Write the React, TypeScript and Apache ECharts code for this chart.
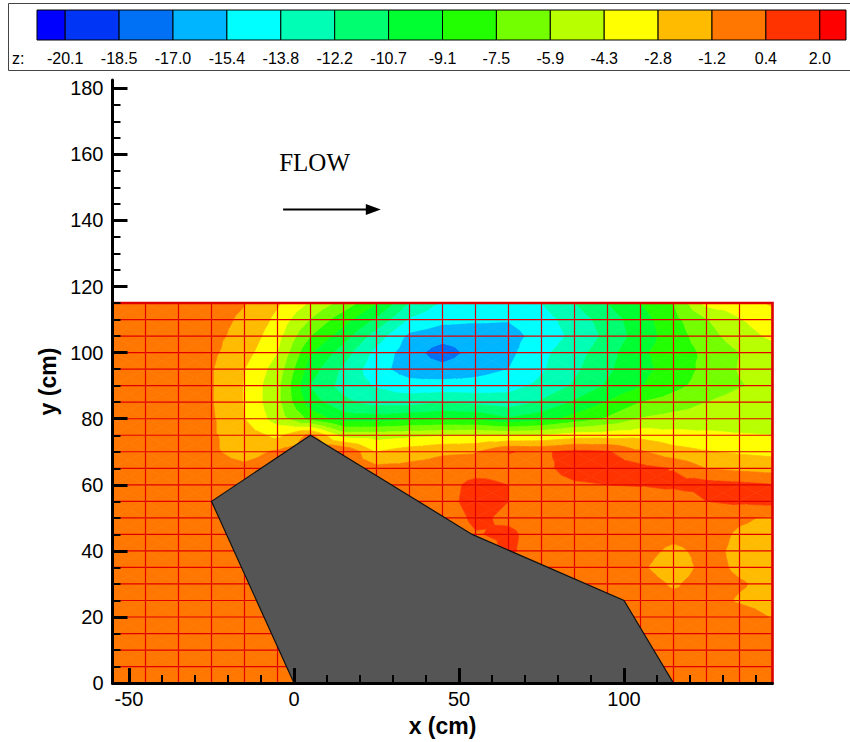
import React, { useEffect, useRef } from "react";
import * as echarts from "echarts";

// ---------- data ----------
const xNodes = [-55, -45, -35, -25, -15, -5, 5, 15, 25, 35, 45, 55, 65, 75, 85, 95, 105, 115, 125, 135, 145];
const yNodes = [0, 5, 10, 15, 20, 25, 30, 35, 40, 45, 50, 55, 60, 65, 70, 75, 80, 85, 90, 95, 100, 105, 110, 115];

// z values along each mesh row (x = -55 ... 145)
const z115 = [-0.5, -0.5, -0.6, -0.7, -1.15, -2.6, -4.5, -6.5, -9.0, -12.3, -14.0, -14.5, -14.5, -13.8, -12.2, -10.7, -9.1, -7.5, -3.8, -3.5, -2.6];
const z110 = [-0.5, -0.5, -0.6, -0.8, -1.4, -3.2, -6.0, -8.5, -11.0, -14.0, -15.0, -15.2, -15.3, -14.5, -13.0, -11.5, -9.8, -8.0, -6.0, -4.4, -3.4];
const z105 = [-0.5, -0.5, -0.6, -0.8, -1.7, -3.8, -7.5, -10.0, -13.0, -15.8, -16.4, -16.2, -16.0, -14.8, -13.4, -11.8, -10.0, -8.3, -6.6, -5.0, -4.0];
const z100 = [-0.5, -0.5, -0.6, -0.9, -2.2, -4.3, -9.0, -11.5, -14.3, -16.3, -17.8, -16.4, -15.8, -14.2, -12.8, -11.3, -9.4, -8.3, -7.2, -5.9, -5.0];
const z95 = [-0.5, -0.5, -0.6, -1.1, -2.8, -5.0, -10.0, -12.5, -14.8, -16.2, -16.5, -16.0, -15.4, -14.0, -12.5, -11.0, -9.5, -8.6, -7.0, -5.8, -5.2];
const z90 = [-0.5, -0.5, -0.6, -1.1, -2.9, -5.5, -10.8, -12.8, -14.0, -14.8, -14.8, -14.8, -14.4, -13.4, -12.0, -10.5, -9.2, -8.0, -6.8, -6.0, -5.5];
const z85 = [-0.5, -0.5, -0.6, -1.1, -2.9, -5.5, -10.0, -11.8, -12.8, -12.8, -12.3, -12.6, -13.0, -12.0, -10.5, -9.0, -7.5, -6.8, -5.9, -5.3, -5.0];
const z80 = [-0.5, -0.5, -0.6, -1.0, -2.8, -5.0, -8.0, -10.0, -10.0, -9.6, -9.3, -9.5, -10.5, -9.8, -8.5, -7.3, -5.8, -5.3, -5.1, -5.0, -4.9];
const z75 = [-0.5, -0.5, -0.6, -1.0, -2.0, -3.2, -0.8, -5.0, -5.0, -4.7, -4.5, -4.3, -4.5, -4.3, -3.6, -3.5, -3.3, -3.8, -4.0, -4.2, -4.3];
const z70 = [-0.5, -0.5, -0.6, -1.0, -1.7, -1.0, -0.5, 0.45, -2.8, -2.0, -1.4, -1.3, 0.45, 0.2, 0.8, 0.6, -1.0, -2.2, -2.7, -3.0, -3.2];
const z65 = [-0.5, -0.5, -0.6, -0.7, -0.9, -0.5, -0.5, -0.5, -0.8, -0.7, -0.6, -0.4, -0.1, 0.0, 1.0, 1.1, 0.9, 0.3, -1.2, -1.6, -1.9];
const z60 = [-0.5, -0.5, -0.6, -0.6, -0.5, -0.5, -0.5, -0.5, -0.5, -0.5, -0.3, 0.9, 0.4, -0.2, 0.2, 0.4, 0.5, 0.9, 1.0, 0.8, 0.5];
const z55 = [-0.5, -0.5, -0.6, -0.5, -0.5, -0.5, -0.5, -0.5, -0.5, -0.5, -0.2, 1.0, 0.4, -0.3, -0.3, -0.4, -0.5, -1.25, 0.4, 0.7, 0.9];
const z50 = [-0.5, -0.5, -0.5, -0.5, -0.5, -0.5, -0.5, -0.5, -0.5, -0.5, -0.5, 0.7, 0.1, -0.3, -0.4, -0.5, -0.5, -0.6, -0.4, -1.0, -1.4];
const z45 = [-0.5, -0.5, -0.5, -0.5, -0.5, -0.5, -0.5, -0.5, -0.5, -0.5, -0.5, 0.3, 0.7, -0.3, -0.5, -0.5, -0.5, -0.8, -0.6, -1.4, -1.6];
const z40 = [-0.5, -0.5, -0.5, -0.5, -0.5, -0.5, -0.5, -0.5, -0.5, -0.5, -0.5, -0.5, 0.6, -0.2, -0.5, -0.5, -0.7, -1.5, -0.8, -1.5, -1.7];
const z35 = [-0.5, -0.5, -0.5, -0.5, -0.5, -0.5, -0.5, -0.5, -0.5, -0.5, -0.5, -0.5, -0.5, -0.5, -0.5, -0.5, -1.0, -1.9, -0.8, -1.4, -1.6];
const z30 = [-0.5, -0.5, -0.5, -0.5, -0.5, -0.5, -0.5, -0.5, -0.5, -0.5, -0.5, -0.5, -0.5, -0.5, -0.5, -0.5, -0.6, -1.35, -0.7, -1.1, -1.5];
const z25 = [-0.5, -0.5, -0.5, -0.5, -0.5, -0.5, -0.5, -0.5, -0.5, -0.5, -0.5, -0.5, -0.5, -0.5, -0.5, -0.5, -0.5, -0.9, -0.8, -1.3, -1.5];
const z20 = [-0.5, -0.5, -0.5, -0.5, -0.5, -0.5, -0.5, -0.5, -0.5, -0.5, -0.5, -0.5, -0.5, -0.5, -0.5, -0.5, -0.5, -0.5, -0.6, -0.8, -1.25];
const z15 = [-0.5, -0.5, -0.5, -0.5, -0.5, -0.5, -0.5, -0.5, -0.5, -0.5, -0.5, -0.5, -0.5, -0.5, -0.5, -0.5, -0.5, -0.5, -0.5, -0.6, -0.8];
const z10 = [-0.5, -0.5, -0.5, -0.5, -0.5, -0.5, -0.5, -0.5, -0.5, -0.5, -0.5, -0.5, -0.5, -0.5, -0.5, -0.5, -0.5, -0.5, -0.5, -0.5, -0.5];
const z5 = [-0.5, -0.5, -0.5, -0.5, -0.5, -0.5, -0.5, -0.5, -0.5, -0.5, -0.5, -0.5, -0.5, -0.5, -0.5, -0.5, -0.5, -0.5, -0.5, -0.5, -0.5];
const z0 = [-0.5, -0.5, -0.5, -0.5, -0.5, -0.5, -0.5, -0.5, -0.5, -0.5, -0.5, -0.5, -0.5, -0.5, -0.5, -0.5, -0.5, -0.5, -0.5, -0.5, -0.5];

const zRows = [z0, z5, z10, z15, z20, z25, z30, z35, z40, z45, z50, z55, z60, z65, z70, z75, z80, z85, z90, z95, z100, z105, z110, z115];

const levels = [-20.1, -18.5, -17.0, -15.4, -13.8, -12.2, -10.7, -9.1, -7.5, -5.9, -4.3, -2.8, -1.2, 0.4, 2.0];
const levelLabels = ["-20.1", "-18.5", "-17.0", "-15.4", "-13.8", "-12.2", "-10.7", "-9.1", "-7.5", "-5.9", "-4.3", "-2.8", "-1.2", "0.4", "2.0"];
const bandColors = [
  "#0000FF", "#0035F5", "#0070F5", "#00B5FF", "#00FFFF", "#00FFB5", "#00FF70", "#00FF30",
  "#22FF00", "#74FF00", "#B8FF00", "#FFFF00", "#FFBB00", "#FF7700", "#FF3300", "#FF0000",
];

const obstacleX = [0, -25, 5, 54, 100, 115];
const obstacleY = [0, 55, 75, 45, 25, 0];

const xMajorTicks = [-50, 0, 50, 100];
const xMinorTicks = [-40, -30, -20, -10, 10, 20, 30, 40, 60, 70, 80, 90, 110, 120, 130, 140];
const yMajorTicks = [0, 20, 40, 60, 80, 100, 120, 140, 160, 180];
const yMinorTicks = [5, 10, 15, 25, 30, 35, 45, 50, 55, 65, 70, 75, 85, 90, 95, 105, 110, 115, 125, 130, 135, 145, 150, 155, 165, 170, 175];

const flowLabel = "FLOW";
const flowTextAt = [-4.5, 157.5];
const arrowFrom = [-3.3, 143.3];
const arrowTo = [26.3, 143.3];

// ---------- helpers ----------
type P = [number, number, number];

function clip(poly: P[], t: number, keepAbove: boolean): P[] {
  const out: P[] = [];
  const n = poly.length;
  for (let k = 0; k < n; k++) {
    const a = poly[k];
    const b = poly[(k + 1) % n];
    const ina = keepAbove ? a[2] >= t : a[2] <= t;
    const inb = keepAbove ? b[2] >= t : b[2] <= t;
    if (ina) out.push(a);
    if (ina !== inb) {
      const f = (t - a[2]) / (b[2] - a[2]);
      out.push([a[0] + f * (b[0] - a[0]), a[1] + f * (b[1] - a[1]), t]);
    }
  }
  return out;
}

function renderContour(params: any, api: any) {
  const i = api.value(2);
  const j = api.value(3);
  const x0 = xNodes[i], x1 = xNodes[i + 1];
  const y0 = yNodes[j], y1 = yNodes[j + 1];
  const a: P = [x0, y0, zRows[j][i]];
  const b: P = [x1, y0, zRows[j][i + 1]];
  const c: P = [x1, y1, zRows[j + 1][i + 1]];
  const d: P = [x0, y1, zRows[j + 1][i]];
  const m: P = [(x0 + x1) / 2, (y0 + y1) / 2, (a[2] + b[2] + c[2] + d[2]) / 4];
  const tris: P[][] = [[a, b, m], [b, c, m], [c, d, m], [d, a, m]];
  const children: any[] = [];
  for (const tri of tris) {
    const zs = tri.map((p) => p[2]);
    const zmin = Math.min(...zs), zmax = Math.max(...zs);
    for (let k = 0; k < bandColors.length; k++) {
      const lo = k === 0 ? -Infinity : levels[k - 1];
      const hi = k === bandColors.length - 1 ? Infinity : levels[k];
      if (zmax < lo || zmin > hi) continue;
      let poly: P[] = tri;
      if (lo !== -Infinity) poly = clip(poly, lo, true);
      if (poly.length < 3) continue;
      if (hi !== Infinity) poly = clip(poly, hi, false);
      if (poly.length < 3) continue;
      const pts = poly.map((p) => api.coord([p[0], p[1]]));
      children.push({
        type: "polygon",
        shape: { points: pts },
        style: { fill: bandColors[k], stroke: bandColors[k], lineWidth: 0.7 },
      });
    }
  }
  return { type: "group", children };
}

function renderMesh(params: any, api: any) {
  const children: any[] = [];
  const xl = xNodes[0], xr = xNodes[xNodes.length - 1];
  const yb = yNodes[0], yt = yNodes[yNodes.length - 1];
  const meshColor = "#E00000";
  for (let k = 1; k < xNodes.length - 1; k++) {
    const p0 = api.coord([xNodes[k], yb]);
    const p1 = api.coord([xNodes[k], yt]);
    children.push({ type: "line", shape: { x1: p0[0], y1: p0[1], x2: p1[0], y2: p1[1] }, style: { stroke: meshColor, lineWidth: 1.2 } });
  }
  for (let k = 1; k < yNodes.length - 1; k++) {
    const p0 = api.coord([xl, yNodes[k]]);
    const p1 = api.coord([xr, yNodes[k]]);
    children.push({ type: "line", shape: { x1: p0[0], y1: p0[1], x2: p1[0], y2: p1[1] }, style: { stroke: meshColor, lineWidth: 1.2 } });
  }
  const tl = api.coord([xl, yt]);
  const tr = api.coord([xr, yt]);
  const br = api.coord([xr, yb]);
  children.push({
    type: "polyline",
    shape: { points: [tl, tr, br] },
    style: { stroke: "#DD0000", lineWidth: 2.6, fill: null },
  });
  return { type: "group", children };
}

function renderObstacle(params: any, api: any) {
  const pts = obstacleX.map((x, k) => api.coord([x, obstacleY[k]]));
  return {
    type: "polygon",
    shape: { points: pts },
    style: { fill: "#555555", stroke: "#111111", lineWidth: 1.2 },
  };
}

function renderFlow(params: any, api: any) {
  const t = api.coord(flowTextAt);
  const a = api.coord(arrowFrom);
  const b = api.coord(arrowTo);
  return {
    type: "group",
    children: [
      {
        type: "text",
        x: t[0],
        y: t[1],
        style: {
          text: flowLabel,
          fontSize: 25,
          fontFamily: '"Liberation Serif", "Times New Roman", serif',
          fill: "#000",
          align: "left",
          verticalAlign: "middle",
        },
      },
      { type: "line", shape: { x1: a[0], y1: a[1], x2: b[0] - 10, y2: b[1] }, style: { stroke: "#000", lineWidth: 2 } },
      {
        type: "polygon",
        shape: { points: [[b[0], b[1]], [b[0] - 15, b[1] - 5.5], [b[0] - 15, b[1] + 5.5]] },
        style: { fill: "#000" },
      },
    ],
  };
}

// ---------- colour bar (legend) ----------
function colorBarElements() {
  const els: any[] = [];
  const barLeft = 37, barRight = 846, barTop = 10, barH = 30;
  const firstEdge = 65.2, step = 53.9;
  els.push({ type: "rect", shape: { x: 8.5, y: 3.5, width: 860, height: 67 }, style: { fill: "#fff", stroke: "#444", lineWidth: 1 }, z: 0 });
  const edges = [barLeft, ...levels.map((_, k) => firstEdge + step * k), barRight];
  for (let k = 0; k < bandColors.length; k++) {
    els.push({
      type: "rect",
      shape: { x: edges[k], y: barTop, width: edges[k + 1] - edges[k], height: barH },
      style: { fill: bandColors[k], stroke: "#000", lineWidth: 1 },
      z: 1,
    });
  }
  levelLabels.forEach((lab, k) => {
    els.push({
      type: "text",
      x: firstEdge + step * k,
      y: 58,
      style: { text: lab, fontSize: 16, fontFamily: '"Liberation Sans", Arial, sans-serif', fill: "#000", align: "center", verticalAlign: "middle" },
      z: 2,
    });
  });
  els.push({
    type: "text",
    x: 12,
    y: 58,
    style: { text: "z:", fontSize: 16, fontFamily: '"Liberation Sans", Arial, sans-serif', fill: "#000", align: "left", verticalAlign: "middle" },
    z: 2,
  });
  return els;
}

const FONT = '"Liberation Sans", Arial, Helvetica, sans-serif';

export default function App() {
  const ref = useRef<HTMLDivElement | null>(null);
  useEffect(() => {
    document.body.style.margin = "0";
    if (!ref.current) return;
    const chart = echarts.init(ref.current, undefined, { renderer: "svg" });
    const cells: number[][] = [];
    for (let j = 0; j < yNodes.length - 1; j++) {
      for (let i = 0; i < xNodes.length - 1; i++) {
        cells.push([xNodes[i], yNodes[j], i, j]);
      }
    }
    const xBase = {
      type: "value",
      min: -55,
      max: 145,
      position: "bottom",
      splitLine: { show: false },
      z: 10,
    };
    const yBase = {
      type: "value",
      min: 0,
      max: 182.5,
      position: "left",
      splitLine: { show: false },
      z: 10,
    };
    chart.setOption({
      animation: false,
      backgroundColor: "#fff",
      grid: { left: 112.5, right: 77.5, top: 80, bottom: 58.7, containLabel: false },
      graphic: { elements: colorBarElements() },
      xAxis: [
        {
          ...xBase,
          axisLine: { onZero: false, lineStyle: { color: "#000", width: 3 } },
          axisTick: { inside: true, length: 15, customValues: xMajorTicks, lineStyle: { color: "#000", width: 3 } },
          axisLabel: { customValues: xMajorTicks, color: "#000", fontSize: 20, fontFamily: FONT, margin: 6 },
          name: "x (cm)",
          nameLocation: "middle",
          nameGap: 26,
          nameTextStyle: { color: "#000", fontSize: 23, fontWeight: "bold", fontFamily: FONT },
        },
        {
          ...xBase,
          axisLine: { show: false, onZero: false },
          axisTick: { inside: true, length: 8, customValues: xMinorTicks, lineStyle: { color: "#000", width: 2 } },
          axisLabel: { show: false },
        },
      ],
      yAxis: [
        {
          ...yBase,
          axisLine: { onZero: false, lineStyle: { color: "#000", width: 3 } },
          axisTick: { inside: true, length: 15, customValues: yMajorTicks, lineStyle: { color: "#000", width: 3 } },
          axisLabel: { customValues: yMajorTicks, color: "#000", fontSize: 20, fontFamily: FONT, margin: 9 },
          name: "y (cm)",
          nameLocation: "middle",
          nameGap: 46,
          nameRotate: 90,
          nameTextStyle: { color: "#000", fontSize: 23, fontWeight: "bold", fontFamily: FONT },
        },
        {
          ...yBase,
          axisLine: { show: false, onZero: false },
          axisTick: { inside: true, length: 8, customValues: yMinorTicks, lineStyle: { color: "#000", width: 2 } },
          axisLabel: { show: false },
        },
      ],
      series: [
        { type: "custom", name: "z", renderItem: renderContour, data: cells, z: 1, silent: true, xAxisIndex: 0, yAxisIndex: 0 },
        { type: "custom", name: "mesh", renderItem: renderMesh, data: [[xNodes[0], yNodes[0]]], z: 2, silent: true, xAxisIndex: 0, yAxisIndex: 0 },
        { type: "custom", name: "obstacle", renderItem: renderObstacle, data: [[obstacleX[0], obstacleY[0]]], z: 3, silent: true, xAxisIndex: 0, yAxisIndex: 0 },
        { type: "custom", name: "flow", renderItem: renderFlow, data: [flowTextAt], z: 4, silent: true, xAxisIndex: 0, yAxisIndex: 0 },
      ],
    });
    return () => chart.dispose();
  }, []);
  return <div ref={ref} style={{ width: 850, height: 742 }} />;
}
